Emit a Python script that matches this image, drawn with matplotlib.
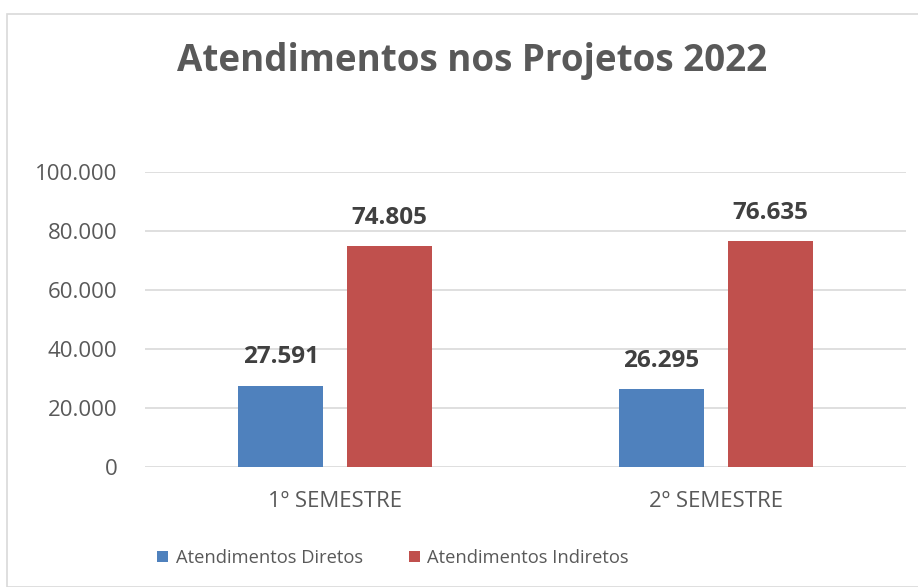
import numpy as np
import matplotlib.pyplot as plt
from matplotlib.patches import Rectangle

# Dados
categorias = ['1º SEMESTRE', '2º SEMESTRE']
diretos = [27591, 26295]
indiretos = [74805, 76635]
series = ['Atendimentos Diretos', 'Atendimentos Indiretos']
cores = ['#4F81BD', '#C0504D']
yticks = [0, 20000, 40000, 60000, 80000, 100000]

plt.rcParams['font.family'] = ['Open Sans', 'DejaVu Sans']
cinza = '#595959'


def fmt(v):
    return f'{v:,.0f}'.replace(',', '.')


fig = plt.figure(figsize=(9.18, 5.87), dpi=100)
ax = fig.add_axes([145 / 918, 1 - 467 / 587, 761 / 918, 295 / 587])

# moldura do gráfico
fig.patches.append(Rectangle((7 / 918, 0), 1, 1 - 14 / 587, transform=fig.transFigure,
                             fill=False, edgecolor='#D9D9D9', linewidth=1.2))

x = np.arange(len(categorias))
w = 0.223
off = 0.143
b1 = ax.bar(x - off, diretos, w, color=cores[0], label=series[0], zorder=3)
b2 = ax.bar(x + off, indiretos, w, color=cores[1], label=series[1], zorder=3)

for bars in (b1, b2):
    for r in bars:
        ax.text(r.get_x() + r.get_width() / 2, r.get_height() + 5500, fmt(r.get_height()),
                ha='center', va='bottom', fontsize=17.5, fontweight='bold', color='#404040')

ax.set_xlim(-0.5, 1.5)
ax.set_ylim(0, 100000)
ax.set_yticks(yticks)
ax.set_yticklabels([fmt(v) for v in yticks], fontsize=16, color=cinza)
ax.set_xticks(x)
ax.set_xticklabels(categorias, fontsize=16, color=cinza)
ax.tick_params(axis='both', length=0)
ax.tick_params(axis='y', pad=20)
ax.tick_params(axis='x', pad=17)
ax.grid(axis='y', color='#D9D9D9', linewidth=1.2, zorder=0)
for s in ax.spines.values():
    s.set_visible(False)

fig.text(0.514, 1 - 61 / 587, 'Atendimentos nos Projetos 2022', ha='center', va='center',
         fontsize=26.5, fontweight='bold', color=cinza)

fig.legend(loc='center', bbox_to_anchor=(0.428, 1 - 558 / 587), ncol=2, frameon=False,
           fontsize=13.2, labelcolor=cinza, handlelength=0.6, handleheight=0.6,
           handletextpad=0.4, columnspacing=2.5)

fig.savefig('out.png', dpi=100)
